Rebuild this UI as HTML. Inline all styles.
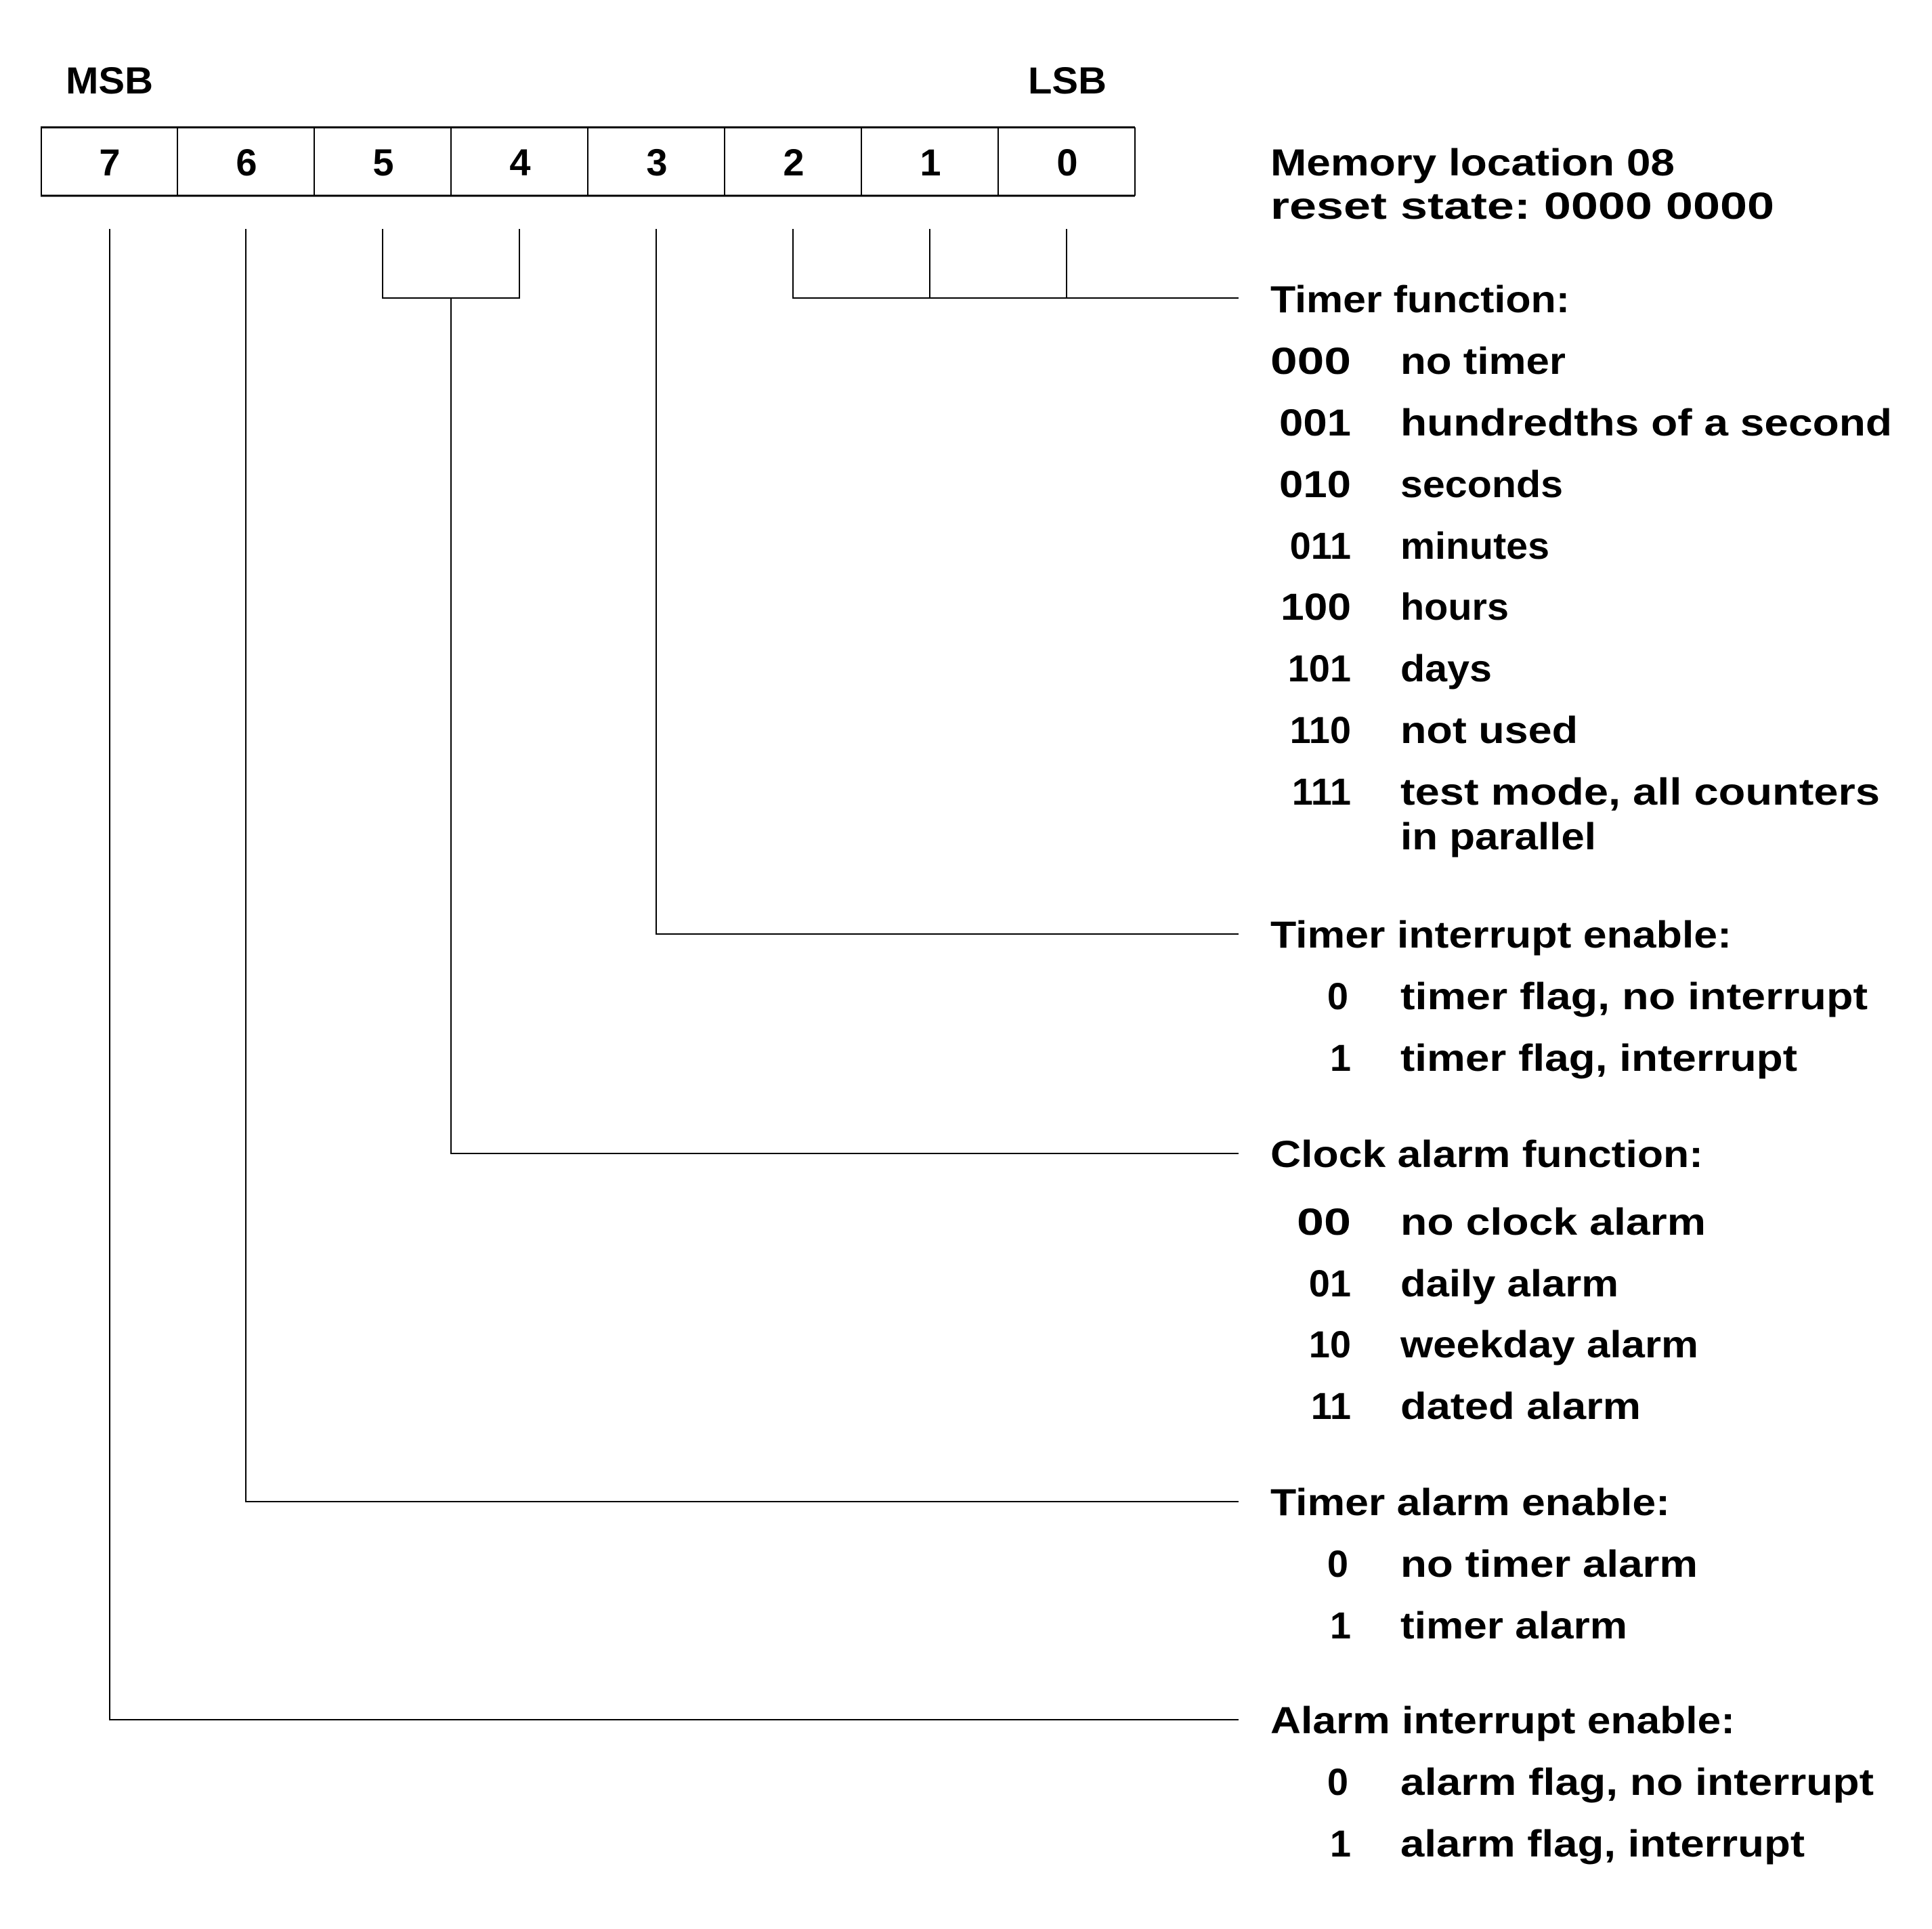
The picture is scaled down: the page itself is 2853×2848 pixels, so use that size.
<!DOCTYPE html>
<html><head><meta charset="utf-8"><style>html,body{margin:0;padding:0;background:#fff}svg{display:block}text{font-family:"Liberation Sans",sans-serif;font-weight:bold;font-size:56px;fill:#000}</style></head>
<body>
<svg width="2853" height="2848" viewBox="0 0 2853 2848" xmlns="http://www.w3.org/2000/svg">
<rect width="2853" height="2848" fill="#fff"/>
<g stroke="#000" fill="none">
<line x1="60" y1="188" x2="1676" y2="188" stroke-width="3"/>
<line x1="60" y1="289" x2="1676" y2="289" stroke-width="3"/>
<g stroke-width="2">
<line x1="61" y1="188" x2="61" y2="289"/><line x1="262" y1="188" x2="262" y2="289"/><line x1="464" y1="188" x2="464" y2="289"/><line x1="666" y1="188" x2="666" y2="289"/><line x1="868" y1="188" x2="868" y2="289"/><line x1="1070" y1="188" x2="1070" y2="289"/><line x1="1272" y1="188" x2="1272" y2="289"/><line x1="1474" y1="188" x2="1474" y2="289"/><line x1="1676" y1="188" x2="1676" y2="289"/>
<polyline points="1171,338 1171,440 1829,440"/>
<line x1="1373" y1="338" x2="1373" y2="440"/>
<line x1="1575" y1="338" x2="1575" y2="440"/>
<polyline points="565,338 565,440 767,440 767,338"/>
<polyline points="666,440 666,1703 1829,1703"/>
<polyline points="969,338 969,1379 1829,1379"/>
<polyline points="363,338 363,2217 1829,2217"/>
<polyline points="162,338 162,2539 1829,2539"/>
</g></g>
<text x="97" y="138" textLength="129" lengthAdjust="spacingAndGlyphs">MSB</text>
<text x="1518" y="138" textLength="116" lengthAdjust="spacingAndGlyphs">LSB</text>
<g text-anchor="middle">
<text x="162" y="259">7</text><text x="364" y="259">6</text><text x="566" y="259">5</text><text x="768" y="259">4</text><text x="970" y="259">3</text><text x="1172" y="259">2</text><text x="1374" y="259">1</text><text x="1576" y="259">0</text>
</g>
<text x="1876" y="259" textLength="597" lengthAdjust="spacingAndGlyphs">Memory location 08</text>
<text x="1876" y="323" textLength="744" lengthAdjust="spacingAndGlyphs">reset state: 0000 0000</text>
<text x="1876" y="461" textLength="442" lengthAdjust="spacingAndGlyphs">Timer function:</text>
<text x="1876" y="552" textLength="119" lengthAdjust="spacingAndGlyphs">000</text>
<text x="1889" y="643" textLength="106" lengthAdjust="spacingAndGlyphs">001</text>
<text x="1889" y="734" textLength="106" lengthAdjust="spacingAndGlyphs">010</text>
<text x="1891" y="915" textLength="104" lengthAdjust="spacingAndGlyphs">100</text>
<text x="1915" y="1823" textLength="80" lengthAdjust="spacingAndGlyphs">00</text>
<g text-anchor="end">
<text x="1995" y="825">011</text>
<text x="1995" y="1006">101</text>
<text x="1995" y="1097">110</text>
<text x="1995" y="1188">111</text>
<text x="1991" y="1490">0</text>
<text x="1995" y="1581">1</text>
<text x="1995" y="1914">01</text>
<text x="1995" y="2004">10</text>
<text x="1995" y="2095">11</text>
<text x="1991" y="2328">0</text>
<text x="1995" y="2419">1</text>
<text x="1991" y="2650">0</text>
<text x="1995" y="2741">1</text>
</g>
<text x="2068" y="552" textLength="244" lengthAdjust="spacingAndGlyphs">no timer</text>
<text x="2068" y="643" textLength="726" lengthAdjust="spacingAndGlyphs">hundredths of a second</text>
<text x="2068" y="734" textLength="240" lengthAdjust="spacingAndGlyphs">seconds</text>
<text x="2068" y="825" textLength="220" lengthAdjust="spacingAndGlyphs">minutes</text>
<text x="2068" y="915" textLength="160" lengthAdjust="spacingAndGlyphs">hours</text>
<text x="2068" y="1006" textLength="135" lengthAdjust="spacingAndGlyphs">days</text>
<text x="2068" y="1097" textLength="262" lengthAdjust="spacingAndGlyphs">not used</text>
<text x="2068" y="1188" textLength="708" lengthAdjust="spacingAndGlyphs">test mode, all counters</text>
<text x="2068" y="1254" textLength="289" lengthAdjust="spacingAndGlyphs">in parallel</text>
<text x="1876" y="1399" textLength="681" lengthAdjust="spacingAndGlyphs">Timer interrupt enable:</text>
<text x="2068" y="1490" textLength="690" lengthAdjust="spacingAndGlyphs">timer flag, no interrupt</text>
<text x="2068" y="1581" textLength="586" lengthAdjust="spacingAndGlyphs">timer flag, interrupt</text>
<text x="1876" y="1723" textLength="639" lengthAdjust="spacingAndGlyphs">Clock alarm function:</text>
<text x="2068" y="1823" textLength="451" lengthAdjust="spacingAndGlyphs">no clock alarm</text>
<text x="2068" y="1914" textLength="322" lengthAdjust="spacingAndGlyphs">daily alarm</text>
<text x="2068" y="2004" textLength="440" lengthAdjust="spacingAndGlyphs">weekday alarm</text>
<text x="2068" y="2095" textLength="355" lengthAdjust="spacingAndGlyphs">dated alarm</text>
<text x="1876" y="2237" textLength="590" lengthAdjust="spacingAndGlyphs">Timer alarm enable:</text>
<text x="2068" y="2328" textLength="439" lengthAdjust="spacingAndGlyphs">no timer alarm</text>
<text x="2068" y="2419" textLength="335" lengthAdjust="spacingAndGlyphs">timer alarm</text>
<text x="1876" y="2559" textLength="686" lengthAdjust="spacingAndGlyphs">Alarm interrupt enable:</text>
<text x="2068" y="2650" textLength="699" lengthAdjust="spacingAndGlyphs">alarm flag, no interrupt</text>
<text x="2068" y="2741" textLength="597" lengthAdjust="spacingAndGlyphs">alarm flag, interrupt</text>
</svg>
</body></html>
